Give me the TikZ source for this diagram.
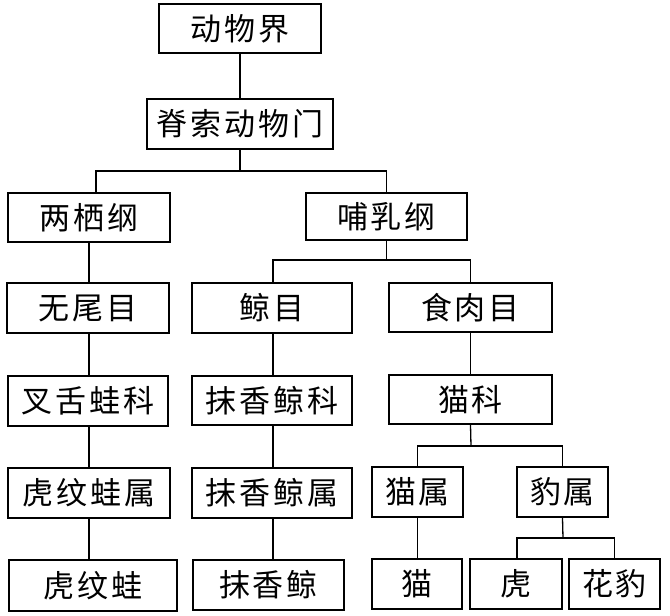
\documentclass[tikz,border=0pt]{standalone}
\usepackage{fontspec}
\newfontfamily\cjk[LetterSpace=9]{Noto Sans CJK SC}
\begin{document}
\begin{tikzpicture}[x=1pt,y=-1pt,
  box/.style={draw, line width=1.3pt, inner sep=0pt, font=\cjk\fontsize{31}{31}\selectfont},
  conn/.style={line width=1.3pt}]
\useasboundingbox (0,0) rectangle (670,616);
\fill[white] (0,0) rectangle (670,616);
\node[box, minimum width=162, minimum height=49] (dwj) at (240,28.5) {动物界};
\node[box, minimum width=186, minimum height=50] (jsm) at (240,124) {脊索动物门};
\node[box, minimum width=162, minimum height=49] (lq) at (89,217.5) {两栖纲};
\node[box, minimum width=161, minimum height=47] (br) at (386.5,216.5) {哺乳纲};
\node[box, minimum width=162, minimum height=50] (wwm) at (88,308) {无尾目};
\node[box, minimum width=160, minimum height=50] (jm) at (272,308) {鲸目};
\node[box, minimum width=163, minimum height=49] (srm) at (470.5,307.5) {食肉目};
\node[box, minimum width=160, minimum height=50] (csk) at (88,401) {叉舌蛙科};
\node[box, minimum width=160, minimum height=49] (mxk) at (272,400.5) {抹香鲸科};
\node[box, minimum width=163, minimum height=49] (mk) at (470.5,399.5) {猫科};
\node[box, minimum width=162, minimum height=50] (hws) at (89,493) {虎纹蛙属};
\node[box, minimum width=160, minimum height=50] (mxs) at (272,493) {抹香鲸属};
\node[box, minimum width=91, minimum height=50] (ms) at (417.5,492) {猫属};
\node[box, minimum width=91, minimum height=50] (bs) at (562.5,492) {豹属};
\node[box, minimum width=168, minimum height=51] (hw) at (93,585.5) {虎纹蛙};
\node[box, minimum width=151, minimum height=50] (mxj) at (268.5,585) {抹香鲸};
\node[box, minimum width=90, minimum height=50] (m) at (417,584) {猫};
\node[box, minimum width=92, minimum height=50] (h) at (516,584) {虎};
\node[box, minimum width=91, minimum height=50] (hb) at (614.5,584) {花豹};
\coordinate (j1) at (240,171);
\coordinate (j2) at (386.5,260);
\coordinate (j3) at (471,446);
\coordinate (j4) at (563,538);
% connectors
\draw[conn] (dwj.south) -- (jsm.north);
\draw[conn] (jsm.south) -- (j1);
\draw[conn] ([xshift=7]lq.north) |- (j1) -| (br.north);
\draw[conn] (lq.south) -- (lq.south |- wwm.north);
\draw[conn] (br.south) -- (j2);
\draw[conn] ([xshift=1]jm.north) |- (j2) -| (srm.north);
\draw[conn] ([xshift=1]wwm.south) -- ([xshift=1]csk.north);
\draw[conn] ([xshift=1]csk.south) -- ([xshift=1]csk.south |- hws.north);
\draw[conn] (hws.south) -- (hws.south |- hw.north);
\draw[conn] ([xshift=1]jm.south) -- ([xshift=1]mxk.north);
\draw[conn] ([xshift=1]mxk.south) -- ([xshift=1]mxs.north);
\draw[conn] ([xshift=1]mxs.south) -- ([xshift=1]mxs.south |- mxj.north);
\draw[conn] (srm.south) -- (mk.north);
\draw[conn] (mk.south) -- (j3);
\draw[conn] (ms.north) |- (j3) -| (bs.north);
\draw[conn] (ms.south) -- (ms.south |- m.north);
\draw[conn] (bs.south) -- (j4);
\draw[conn] ([xshift=1]h.north) |- (j4) -| (hb.north);
\end{tikzpicture}
\end{document}
